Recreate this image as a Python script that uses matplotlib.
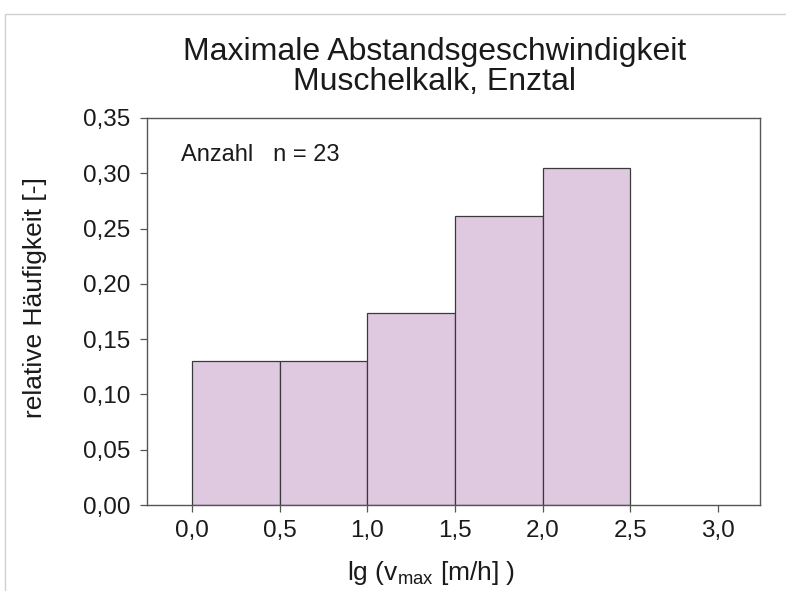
import numpy as np
import matplotlib.pyplot as plt
from matplotlib.patches import Rectangle

plt.rcParams['font.family'] = ['Liberation Sans', 'DejaVu Sans']

# Klassengrenzen und relative Haeufigkeiten (n = 23)
bin_edges = [0.0, 0.5, 1.0, 1.5, 2.0, 2.5]
rel_freq = [0.1304, 0.1304, 0.1739, 0.2609, 0.3043]
x_ticks = [0.0, 0.5, 1.0, 1.5, 2.0, 2.5, 3.0]
y_ticks = [0.0, 0.05, 0.10, 0.15, 0.20, 0.25, 0.30, 0.35]

fig = plt.figure(figsize=(7.86, 5.91), dpi=100)
ax = fig.add_axes([0.187, 0.1455, 0.78, 0.655])

lefts = np.array(bin_edges[:-1])
widths = np.diff(bin_edges)
ax.bar(lefts, rel_freq, width=widths, align='edge', color='#dfc9e0',
       edgecolor='#3a3a3a', linewidth=0.9)

ax.set_xlim(-0.258, 3.242)
ax.set_ylim(0, 0.35)
ax.set_xticks(x_ticks)
ax.set_yticks(y_ticks)
ax.set_xticklabels([f'{v:.1f}'.replace('.', ',') for v in x_ticks])
ax.set_yticklabels([f'{v:.2f}'.replace('.', ',') for v in y_ticks])
ax.tick_params(direction='out', length=5, width=0.9, labelsize=17.5,
               color='#555555', labelcolor='#1a1a1a')
ax.tick_params(axis='y', pad=7)
ax.tick_params(axis='x', pad=6)
for s in ax.spines.values():
    s.set_color('#555555')
    s.set_linewidth(1.0)

# Achsenbeschriftungen und Titel als Figurtexte
fig.text(0.548, 0.0305, r'lg (v$_{\mathregular{max}}$ [m/h] )', fontsize=19,
         ha='center', va='center', color='#1a1a1a')
fig.text(0.0445, 0.497, 'relative Häufigkeit [-]', fontsize=19, rotation=90,
         ha='center', va='center', color='#1a1a1a')
fig.text(0.553, 0.886, 'Maximale Abstandsgeschwindigkeit\nMuschelkalk, Enztal',
         fontsize=23, ha='center', va='center', linespacing=1.0, color='#1a1a1a')
ax.text(0.055, 0.905, 'Anzahl   n = 23', transform=ax.transAxes,
        fontsize=17, va='center', ha='left', color='#1a1a1a')

# duenner grauer Rahmen um das Bild
fig.patches.append(Rectangle((0.006, -0.01), 1.1, 0.986, transform=fig.transFigure,
                             fill=False, edgecolor='#d0d0d0', linewidth=1))

fig.savefig('out.png', dpi=100)
